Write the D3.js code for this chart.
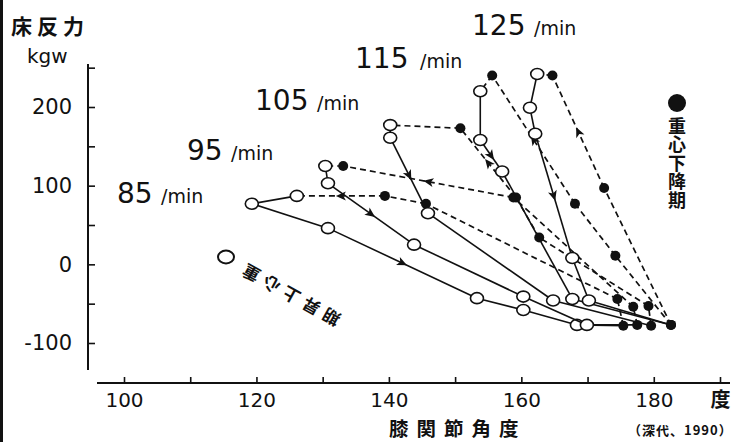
<!DOCTYPE html>
<html>
<head>
<meta charset="utf-8">
<style>
    body { margin: 0; background: #fff; }
    svg { display: block; background: #fff; }
    .num { font-family: "DejaVu Sans", sans-serif; fill: #111; }
    .cjk { font-family: "Noto Sans CJK JP", sans-serif; font-weight: 700; fill: #111; }
</style>
</head>
<body>
<script src="https://d3js.org/d3.v7.min.js"></script>
<script>

    // knee angle (deg), floor reaction force (kgw)
    // "down" = filled points, dashed path (bottom -> top)
    // "up"   = open points, solid path (top -> bottom)
    var speeds = ["85", "95", "105", "115", "125"];

    var down85 = [[175.4, -78], [174.5, -44], [145.6, 77], [139.4, 87]];
    var up85 = [[126.1, 87], [119.3, 77], [130.8, 46], [153.3, -43], [160.3, -58], [168.4, -77]];

    var down95 = [[177.5, -77], [176.9, -54], [158.8, 85], [133.1, 125]];
    var up95 = [[130.4, 125], [130.8, 103], [143.8, 25], [160.3, -41], [169.9, -77]];

    var down105 = [[179.6, -78], [179.2, -53], [162.7, 34], [159.2, 85], [150.8, 173]];
    var up105 = [[140.2, 177], [140.2, 161], [145.9, 65], [164.8, -46]];

    var down115 = [[182.6, -77], [174.2, 11], [168.1, 77], [155.6, 240]];
    var up115 = [[153.8, 220], [153.8, 158], [157.1, 118], [167.7, -44]];

    var down125 = [[182.6, -77], [172.5, 97], [164.7, 240]];
    var up125 = [[162.4, 242], [161.3, 199], [162.1, 166], [167.7, 8], [170.2, -46]];

    // segments (index in loop = down + up) that carry a direction arrow
    var arrows85 = [3, 6];
    var arrows95 = [2, 5];
    var arrows105 = [3, 6];
    var arrows115 = [2, 5];
    var arrows125 = [1, 5];

    var xTicks = [100, 110, 120, 130, 140, 150, 160, 170, 180, 190];
    var xLabels = {100: "100", 120: "120", 140: "140", 160: "160", 180: "180", 190: "度"};
    var yTicks = [-100, -50, 0, 50, 100, 150, 200, 250];
    var yLabels = {"-100": "-100", 0: "0", 100: "100", 200: "200"};

    var loops = [
        {name: "85", down: down85, up: up85, arrows: arrows85, lx: 117, ly: 203, mx: 161},
        {name: "95", down: down95, up: up95, arrows: arrows95, lx: 187, ly: 160, mx: 231},
        {name: "105", down: down105, up: up105, arrows: arrows105, lx: 255, ly: 110, mx: 317},
        {name: "115", down: down115, up: up115, arrows: arrows115, lx: 355, ly: 68, mx: 420},
        {name: "125", down: down125, up: up125, arrows: arrows125, lx: 472, ly: 35, mx: 534}
    ];

    var width = 748, height = 442;

    var svg = d3.select("body").append("svg")
        .attr("width", width)
        .attr("height", height);

    var x = d3.scaleLinear().domain([100, 190]).range([124, 720]);
    var y = d3.scaleLinear().domain([-100, 200]).range([343, 107]);

    // left scan border
    svg.append("rect")
        .attr("x", 0).attr("y", 0)
        .attr("width", 3).attr("height", height)
        .attr("fill", "#111");

    // y axis
    var yAxis = d3.axisLeft(y)
        .tickValues(yTicks)
        .tickSizeInner(-7)
        .tickSizeOuter(0)
        .tickPadding(16)
        .tickFormat(function(d) { return yLabels[d] || ""; });

    var gy = svg.append("g")
        .attr("transform", "translate(88,0)")
        .call(yAxis);
    gy.select(".domain").remove();
    gy.selectAll("line").attr("stroke", "#111").attr("stroke-width", 1.6);
    gy.selectAll("text")
        .attr("class", "num")
        .attr("font-size", 21)
        .attr("fill", "#111");
    gy.append("line")
        .attr("x1", 0).attr("x2", 0)
        .attr("y1", 64).attr("y2", 370)
        .attr("stroke", "#111").attr("stroke-width", 2);

    // x axis
    var xAxis = d3.axisBottom(x)
        .tickValues(xTicks)
        .tickSizeInner(-6)
        .tickSizeOuter(0)
        .tickPadding(10)
        .tickFormat(function(d) { return xLabels[d] || ""; });

    var gx = svg.append("g")
        .attr("transform", "translate(0,383)")
        .call(xAxis);
    gx.select(".domain").remove();
    gx.selectAll("line").attr("stroke", "#111").attr("stroke-width", 1.6);
    gx.selectAll("text")
        .attr("class", function(d) { return d == 190 ? "cjk" : "num"; })
        .attr("font-size", function(d) { return d == 190 ? 20 : 20; })
        .attr("fill", "#111");
    gx.append("line")
        .attr("x1", 97).attr("x2", 730)
        .attr("y1", 0).attr("y2", 0)
        .attr("stroke", "#111").attr("stroke-width", 2);

    // axis titles
    svg.append("text")
        .attr("class", "cjk")
        .attr("x", 11).attr("y", 34)
        .attr("font-size", 21)
        .attr("letter-spacing", 5)
        .text("床反力");

    svg.append("text")
        .attr("class", "num")
        .attr("x", 27).attr("y", 63)
        .attr("font-size", 20)
        .text("kgw");

    svg.append("text")
        .attr("class", "cjk")
        .attr("x", 389).attr("y", 435.5)
        .attr("font-size", 19.5)
        .attr("letter-spacing", 8)
        .text("膝関節角度");

    svg.append("text")
        .attr("class", "cjk")
        .attr("x", 628).attr("y", 435)
        .attr("font-size", 13)
        .attr("letter-spacing", 1)
        .text("（深代、1990）");

    var plot = svg.append("g");

    var line = d3.line()
        .x(function(d) { return x(d[0]); })
        .y(function(d) { return y(d[1]); });

    loops.forEach(function(L) {
        var pts = L.down.concat(L.up);
        var n = pts.length;
        // segments: dashed while i < down.length, solid afterwards (loop closes)
        for (var i = 0; i < n; i++) {
            var a = pts[i], b = pts[(i + 1) % n];
            var dashed = i < L.down.length;
            plot.append("path")
                .attr("d", line([a, b]))
                .attr("fill", "none")
                .attr("stroke", "#111")
                .attr("stroke-width", dashed ? 1.7 : 1.6)
                .attr("stroke-dasharray", dashed ? "6,4" : null);
        }

        L.arrows.forEach(function(i) {
            var a = pts[i], b = pts[(i + 1) % n];
            var x1 = x(a[0]), y1 = y(a[1]), x2 = x(b[0]), y2 = y(b[1]);
            var ang = Math.atan2(y2 - y1, x2 - x1) * 180 / Math.PI;
            plot.append("path")
                .attr("d", "M5,0L-5,-4.5L-2.5,0L-5,4.5Z")
                .attr("fill", "#111")
                .attr("transform", "translate(" + ((x1 + x2) / 2) + "," + ((y1 + y2) / 2) + ") rotate(" + ang + ")");
        });

        plot.selectAll(null)
            .data(L.down)
            .enter().append("circle")
            .attr("cx", function(d) { return x(d[0]); })
            .attr("cy", function(d) { return y(d[1]); })
            .attr("r", 5)
            .attr("fill", "#111");

        plot.selectAll(null)
            .data(L.up)
            .enter().append("ellipse")
            .attr("cx", function(d) { return x(d[0]); })
            .attr("cy", function(d) { return y(d[1]); })
            .attr("rx", 6.5).attr("ry", 5.5)
            .attr("fill", "#fff")
            .attr("stroke", "#111")
            .attr("stroke-width", 1.6);

        // speed labels
        svg.append("text")
            .attr("class", "num")
            .attr("x", L.lx).attr("y", L.ly)
            .attr("font-size", 28)
            .text(L.name);
        svg.append("text")
            .attr("class", "num")
            .attr("x", L.mx).attr("y", L.ly)
            .attr("font-size", 19)
            .text("/min");
    });

    // legend: falling phase
    svg.append("circle")
        .attr("cx", 677).attr("cy", 103).attr("r", 9)
        .attr("fill", "#111");
    svg.append("text")
        .attr("class", "cjk")
        .attr("x", 677).attr("y", 117)
        .attr("font-size", 18)
        .attr("writing-mode", "vertical-rl")
        .attr("letter-spacing", 0.5)
        .text("重心下降期");

    // legend: rising phase (printed turned over in the source)
    svg.append("ellipse")
        .attr("cx", 226).attr("cy", 257).attr("rx", 8).attr("ry", 6.5)
        .attr("fill", "#fff").attr("stroke", "#111").attr("stroke-width", 2);
    "重心上昇期".split("").forEach(function(c, i) {
        var cx = 251 + i * 20, cy = 274 + i * 11;
        svg.append("text")
            .attr("class", "cjk")
            .attr("x", 0).attr("y", 0)
            .attr("text-anchor", "middle")
            .attr("dominant-baseline", "central")
            .attr("font-size", 17)
            .attr("transform", "translate(" + cx + "," + cy + ") rotate(209)")
            .text(c);
    });

</script>
</body>
</html>
